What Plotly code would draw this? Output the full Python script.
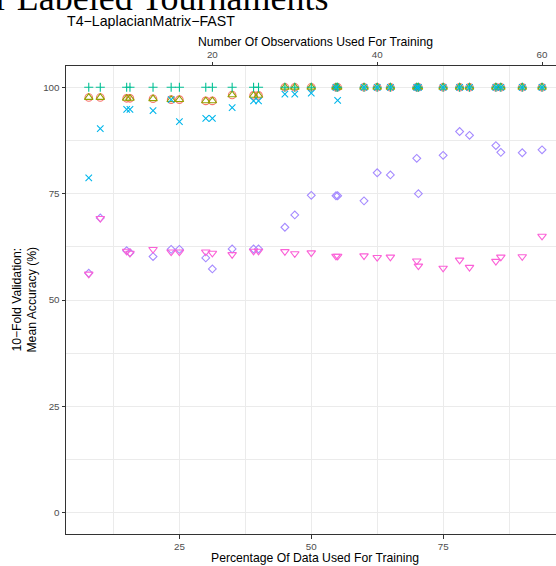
import plotly.graph_objects as go

# Training-set size as a percentage of the 64 labelled tournaments
pct_train = [7.8125, 10, 15, 15.625, 20, 23.4375, 25, 30, 31.25, 35, 39.0625, 40,
             45, 46.875, 50, 54.6875, 55, 60, 62.5, 65, 70, 70.3125, 75, 78.125,
             80, 85, 85.9375, 90, 93.75]

# Mean 10-fold validation accuracy (%) for each classifier
acc_circle = [97.6, 97.6, 97.4, 97.4, 97.3, 97.1, 97.1, 96.8, 96.8, 98.2, 98.1, 98.1,
              100, 100, 100, 100, 100, 100, 100, 100, 100, 100, 100, 100,
              100, 100, 100, 100, 100]
acc_triangle = [97.6, 97.6, 97.4, 97.4, 97.3, 97.1, 97.1, 96.8, 96.8, 98.2, 98.1, 98.1,
                100, 100, 100, 100, 100, 100, 100, 100, 100, 100, 100, 100,
                100, 100, 100, 100, 100]
acc_plus = [100, 100, 100, 100, 100, 100, 100, 100, 100, 100, 100, 100,
            100, 100, 100, 100, 100, 100, 100, 100, 100, 100, 100, 100,
            100, 100, 100, 100, 100]
acc_cross = [78.7, 90.3, 94.8, 94.8, 94.5, 97.1, 91.9, 92.7, 92.7, 95.2, 96.8, 96.8,
             98.4, 98.4, 98.6, 100, 96.9, 100, 100, 100, 100, 100, 100, 100,
             100, 100, 100, 100, 100]
acc_diamond = [56.3, 69.3, 61.6, 61.1, 60.2, 61.9, 61.9, 59.9, 57.3, 62.0, 62.0, 62.0,
               67.1, 70.0, 74.6, 74.5, 74.5, 73.3, 79.9, 79.4, 83.3, 75.0, 84.0, 89.6,
               88.7, 86.3, 84.7, 84.6, 85.3]
acc_tridown = [56.1, 69.2, 61.5, 61.0, 61.9, 61.3, 61.3, 61.3, 61.0, 60.7, 61.5, 61.5,
               61.4, 60.9, 61.1, 60.3, 60.3, 60.4, 60.0, 60.1, 59.2, 58.0, 57.5, 59.4,
               57.7, 59.1, 60.1, 60.2, 65.0]

y_ticks = [0, 25, 50, 75, 100]
pct_ticks = [25, 50, 75]
obs_ticks = [20, 40, 60]
N_TOURNAMENTS = 64

W, H = 556, 566
ML, MR, MT, MB = 65.5, 0, 65.7, 31.7
X_RANGE = [3.5, 96.4]
Y_RANGE = [-5, 105]

SANS = "Liberation Sans, Arial, sans-serif"
SERIF = "Liberation Serif, Times New Roman, serif"
GRID = "#EBEBEB"
BORDER = "#333333"
TICKTXT = "#4D4D4D"

plot_w = W - ML - MR
plot_h = H - MT - MB


def px_x(px):
    return (px - ML) / plot_w


def px_y(py):
    return (H - MB - py) / plot_h


series = [
    (acc_circle, "circle-open", "#F8766D", 7.5),
    (acc_triangle, "triangle-up-open", "#93A100", 7.5),
    (acc_plus, "cross-thin-open", "#00C094", 6.5),
    (acc_cross, "x-thin-open", "#00B6EB", 6.5),
    (acc_diamond, "diamond-open", "#A58AFF", 6),
    (acc_tridown, "triangle-down-open", "#FB61D7", 7.5),
]

fig = go.Figure()
for vals, sym, col, size in series:
    fig.add_trace(go.Scatter(
        x=pct_train, y=vals, mode="markers", showlegend=False,
        marker=dict(symbol=sym, size=size, color=col,
                    line=dict(color=col, width=1.1)),
    ))

# secondary (top) axis: number of observations
fig.add_trace(go.Scatter(x=[], y=[], xaxis="x2", yaxis="y",
                         showlegend=False, hoverinfo="skip"))

axis_common = dict(
    zeroline=False, showline=True, linecolor=BORDER, linewidth=1,
    ticks="outside", ticklen=3.5, tickcolor=BORDER, tickwidth=1,
    tickfont=dict(family=SANS, size=9.8, color=TICKTXT),
)
minor_grid = dict(tickvals=[12.5, 37.5, 62.5, 87.5], showgrid=True,
                  gridcolor=GRID, gridwidth=0.6)

fig.update_layout(
    width=W, height=H,
    margin=dict(l=ML, r=MR, t=MT, b=MB, pad=0),
    paper_bgcolor="white", plot_bgcolor="white",
    font=dict(family=SANS, color="black"),
    xaxis=dict(range=X_RANGE, tickvals=pct_ticks, showgrid=True, gridcolor=GRID,
               gridwidth=1, minor=minor_grid, **axis_common),
    xaxis2=dict(overlaying="x", side="top", anchor="y",
                range=[X_RANGE[0] * N_TOURNAMENTS / 100, X_RANGE[1] * N_TOURNAMENTS / 100],
                tickvals=obs_ticks, showgrid=False, **axis_common),
    yaxis=dict(range=Y_RANGE, tickvals=y_ticks, showgrid=True, gridcolor=GRID,
               gridwidth=1, minor=minor_grid, **axis_common),
)

annotations = [
    dict(text="Classifier Accuracy for Labeled Tournaments",
         x=px_x(331), y=px_y(20), xanchor="right", yanchor="bottom",
         font=dict(family=SERIF, size=36, color="black")),
    dict(text="T4−LaplacianMatrix−FAST",
         x=px_x(64), y=px_y(21), xanchor="left", yanchor="middle",
         font=dict(family=SANS, size=14.2, color="black")),
    dict(text="Number Of Observations Used For Training",
         x=px_x(315), y=px_y(41.5), xanchor="center", yanchor="middle",
         font=dict(family=SANS, size=12.2, color="black")),
    dict(text="Percentage Of Data Used For Training",
         x=px_x(315), y=px_y(558), xanchor="center", yanchor="middle",
         font=dict(family=SANS, size=12.2, color="black")),
    dict(text="10−Fold Validation:<br>Mean Accuracy (%)",
         x=px_x(24), y=px_y(300), xanchor="center", yanchor="middle",
         textangle=-90, align="center",
         font=dict(family=SANS, size=12.2, color="black")),
]
for a in annotations:
    a.update(xref="paper", yref="paper", showarrow=False)
fig.update_layout(annotations=annotations)

fig.write_html("out.html")
